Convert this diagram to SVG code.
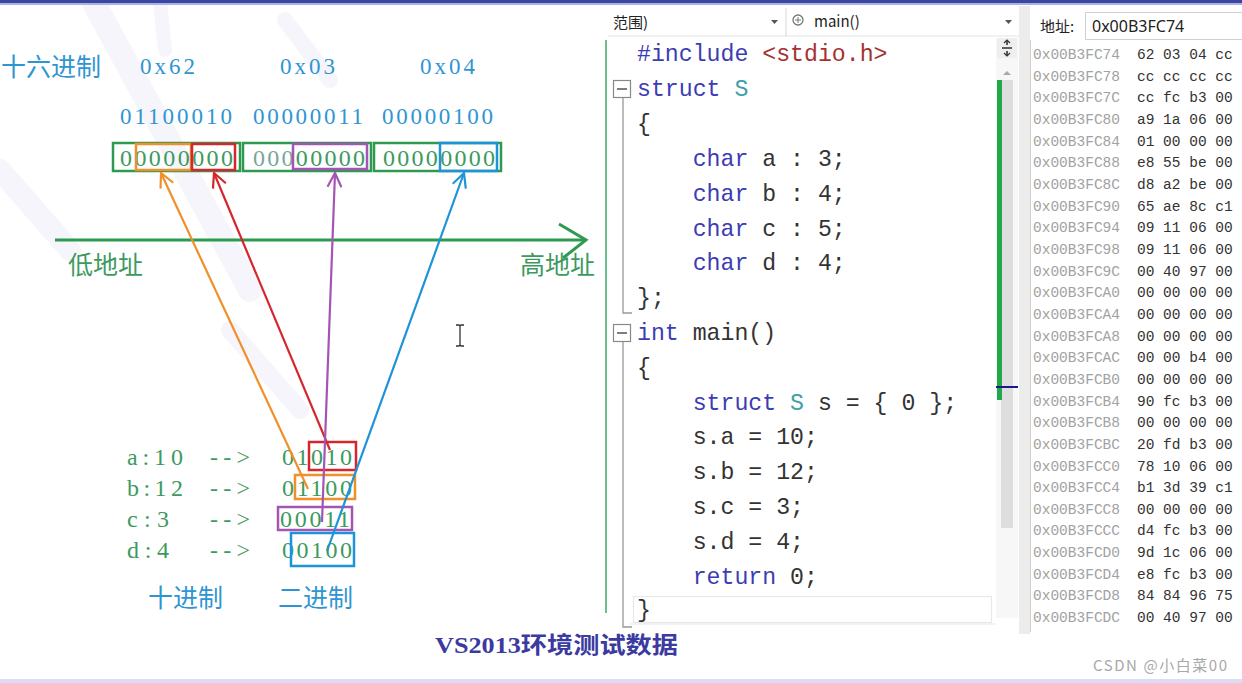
<svg xmlns="http://www.w3.org/2000/svg" width="1242" height="683" viewBox="0 0 1242 683">
<defs>
<style>
.blu{font-family:"Liberation Serif","Noto Sans CJK SC",serif;fill:#2f95d2;font-size:23px}
.cjkb{font-family:"Noto Sans CJK SC",sans-serif;fill:#2f95d2;font-size:25px}
.cjkg{font-family:"Noto Sans CJK SC",sans-serif;fill:#3d9a5e;font-size:25px}
.grn{font-family:"Liberation Serif",serif;fill:#3d9a5e;font-size:24px}
.code{font-family:"Liberation Mono",monospace;font-size:23.2px;fill:#333;white-space:pre}
.kw{fill:#3c3cb4}
.str{fill:#a33232}
.typ{fill:#3fa0a8}
.addr{font-family:"Liberation Mono",monospace;font-size:14.5px;fill:#a2a2a2}
.byte{font-family:"Liberation Mono",monospace;font-size:14.5px;fill:#333}
.ui{font-family:"Noto Sans CJK SC","Noto Sans",sans-serif;font-size:15px;fill:#222}
.box{fill:none;stroke-width:2.5}
.arr{fill:none;stroke-width:2.2}
</style>
<marker id="mO" viewBox="0 0 16 16" refX="15" refY="8" markerWidth="16" markerHeight="16" markerUnits="userSpaceOnUse" orient="auto"><path d="M1,1 L15,8 L1,15" fill="none" stroke="#f0902a" stroke-width="2.2"/></marker>
<marker id="mR" viewBox="0 0 16 16" refX="15" refY="8" markerWidth="16" markerHeight="16" markerUnits="userSpaceOnUse" orient="auto"><path d="M1,1 L15,8 L1,15" fill="none" stroke="#d5262c" stroke-width="2.2"/></marker>
<marker id="mP" viewBox="0 0 16 16" refX="15" refY="8" markerWidth="16" markerHeight="16" markerUnits="userSpaceOnUse" orient="auto"><path d="M1,1 L15,8 L1,15" fill="none" stroke="#a455b4" stroke-width="2.2"/></marker>
<marker id="mB" viewBox="0 0 16 16" refX="15" refY="8" markerWidth="16" markerHeight="16" markerUnits="userSpaceOnUse" orient="auto"><path d="M1,1 L15,8 L1,15" fill="none" stroke="#1e93d8" stroke-width="2.2"/></marker>
</defs>

<rect x="0" y="0" width="1242" height="683" fill="#ffffff"/>

<!-- faint watermark strokes -->
<g id="watermark" fill="none" stroke="#f6f5fb" stroke-linecap="round">
<path d="M95,5 L250,290" stroke-width="24"/>
<path d="M160,0 L165,50" stroke-width="14"/>
<path d="M285,20 L330,80" stroke-width="16"/>
<path d="M0,170 L70,250" stroke-width="22"/>
<path d="M230,330 L300,410" stroke-width="18"/>
</g>

<!-- window frame lines -->
<rect x="0" y="0" width="1242" height="3" fill="#3c45a0"/>
<rect x="0" y="3" width="1242" height="2" fill="#aab2e2"/>
<rect x="0" y="679" width="1242" height="4" fill="#dcdcf6"/>

<!-- LEFT DIAGRAM -->
<g id="hex-labels">
<text class="cjkb" x="1" y="76" font-size="23">十六进制</text>
<text class="blu" x="140" y="74" textLength="55">0x62</text>
<text class="blu" x="280" y="74" textLength="55">0x03</text>
<text class="blu" x="420" y="74" textLength="55">0x04</text>
</g>
<g id="bin-labels">
<text class="blu" x="120" y="124" textLength="112">01100010</text>
<text class="blu" x="253" y="124" textLength="110">00000011</text>
<text class="blu" x="382" y="124" textLength="111">00000100</text>
</g>

<g id="byte0">
<rect class="box" x="113" y="143" width="127" height="28" stroke="#2e9a50" fill="#fdfffd"/>
<text class="grn" x="120" y="166" textLength="113">00000000</text>
<rect class="box" x="136" y="144" width="55" height="26" stroke="#f0902a"/>
<rect class="box" x="192" y="144" width="43" height="26" stroke="#d5262c"/>
</g>
<g id="byte1">
<rect class="box" x="243" y="143" width="128" height="28" stroke="#2e9a50" fill="#fafdfd"/>
<text class="grn" x="253" y="166" textLength="112"><tspan fill="#7aa69a">000</tspan>00000</text>
<rect class="box" x="293" y="144" width="74" height="25" stroke="#a455b4"/>
</g>
<g id="byte2">
<rect class="box" x="374" y="143" width="127" height="28" stroke="#2e9a50" fill="#fdfffd"/>
<text class="grn" x="383" y="166" textLength="112">00000000</text>
<rect class="box" x="440" y="143" width="57" height="28" stroke="#1e93d8"/>
</g>

<g id="axis">
<line x1="55" y1="240" x2="585" y2="240" stroke="#2e9a50" stroke-width="3"/>
<polyline points="559,224 586,240 563,258" fill="none" stroke="#2e9a50" stroke-width="3"/>
<text class="cjkg" x="68" y="274">低地址</text>
<text class="cjkg" x="520" y="274">高地址</text>
</g>

<g id="values">
<text class="grn" x="127" y="465" textLength="56">a:10</text>
<text class="grn" x="127" y="496" textLength="56">b:12</text>
<text class="grn" x="127" y="527" textLength="42">c:3</text>
<text class="grn" x="127" y="558" textLength="42">d:4</text>
<text class="grn" x="210" y="465" textLength="40">--&gt;</text>
<text class="grn" x="210" y="496" textLength="40">--&gt;</text>
<text class="grn" x="210" y="527" textLength="40">--&gt;</text>
<text class="grn" x="210" y="558" textLength="40">--&gt;</text>
<text class="grn" x="282" y="465" textLength="70">01010</text>
<text class="grn" x="282" y="496" textLength="70">01100</text>
<text class="grn" x="280" y="527" textLength="70">00011</text>
<text class="grn" x="282" y="558" textLength="70">00100</text>
<rect class="box" x="309" y="442" width="47" height="28" stroke="#d5262c"/>
<rect class="box" x="295" y="475" width="60" height="24" stroke="#f0902a"/>
<rect class="box" x="278" y="507" width="74" height="23" stroke="#a455b4"/>
<rect class="box" x="291" y="533" width="63" height="33" stroke="#1e93d8"/>
<text class="cjkb" x="148" y="607" font-size="26">十进制</text>
<text class="cjkb" x="278" y="607" font-size="26">二进制</text>
</g>

<g id="connectors">
<line class="arr" x1="308" y1="489" x2="161" y2="173" stroke="#f0902a" marker-end="url(#mO)"/>
<line class="arr" x1="330" y1="450" x2="214" y2="173" stroke="#d5262c" marker-end="url(#mR)"/>
<line class="arr" x1="322" y1="522" x2="335" y2="173" stroke="#a455b4" marker-end="url(#mP)"/>
<line class="arr" x1="327" y1="551" x2="464" y2="173" stroke="#1e93d8" marker-end="url(#mB)"/>
</g>

<g id="cursor" stroke="#333" stroke-width="1.3" fill="none">
<path d="M460,326 V345 M456,325 H459 L460,326 L461,325 H464 M456,346 H459 L460,345 L461,346 H464"/>
</g>

<g id="caption">
<text x="435" y="653" font-family="Liberation Serif,Noto Sans CJK SC,serif" font-weight="bold" font-size="23" fill="#3a3aa0" textLength="243" lengthAdjust="spacingAndGlyphs">VS2013环境测试数据</text>
</g>

<!-- EDITOR -->
<g id="editor-toolbar">
<rect x="608" y="6" width="412" height="30" fill="#ffffff"/>
<line x1="608" y1="36" x2="1020" y2="36" stroke="#e2e2e2"/>
<text class="ui" x="613" y="28" font-size="14">范围)</text>
<path d="M771,20 h7 l-3.5,4 z" fill="#555"/>
<line x1="786" y1="8" x2="786" y2="36" stroke="#d6d6d6"/>
<circle cx="798" cy="20" r="5" fill="none" stroke="#777" stroke-width="1.3"/>
<path d="M795,20 h6 M798,17 v6" stroke="#777" stroke-width="1"/>
<text class="ui" x="814" y="27" font-size="15" font-family="Noto Sans,sans-serif">main()</text>
<path d="M1005,20 h7 l-3.5,4 z" fill="#555"/>
</g>

<g id="editor-gutter">
<line x1="606" y1="40" x2="606" y2="613" stroke="#6cc08c" stroke-width="2"/>
<rect x="613.5" y="80.5" width="17" height="17" fill="#fff" stroke="#888" stroke-width="1.2"/>
<line x1="617" y1="89" x2="627" y2="89" stroke="#555" stroke-width="1.5"/>
<path d="M623,98 V313 H632" fill="none" stroke="#999" stroke-width="1.3"/>
<rect x="613.5" y="324.5" width="17" height="17" fill="#fff" stroke="#888" stroke-width="1.2"/>
<line x1="617" y1="333" x2="627" y2="333" stroke="#555" stroke-width="1.5"/>
<path d="M623,342 V627 H632" fill="none" stroke="#999" stroke-width="1.3"/>
</g>

<g id="code">
<rect x="633.5" y="596.5" width="358" height="26" fill="none" stroke="#e8e8e8" stroke-width="1.2"/>
<text class="code" x="637" y="61"><tspan class="kw" fill="#4a4aa8">#include</tspan> <tspan class="str">&lt;stdio.h&gt;</tspan></text>
<text class="code" x="637" y="96"><tspan class="kw">struct</tspan> <tspan class="typ">S</tspan></text>
<text class="code" x="637" y="131">{</text>
<text class="code" x="637" y="166">    <tspan class="kw">char</tspan> a : 3;</text>
<text class="code" x="637" y="201">    <tspan class="kw">char</tspan> b : 4;</text>
<text class="code" x="637" y="236">    <tspan class="kw">char</tspan> c : 5;</text>
<text class="code" x="637" y="270">    <tspan class="kw">char</tspan> d : 4;</text>
<text class="code" x="637" y="305">};</text>
<text class="code" x="637" y="340"><tspan class="kw">int</tspan> main()</text>
<text class="code" x="637" y="375">{</text>
<text class="code" x="637" y="410">    <tspan class="kw">struct</tspan> <tspan class="typ">S</tspan> s = { 0 };</text>
<text class="code" x="637" y="444">    s.a = 10;</text>
<text class="code" x="637" y="479">    s.b = 12;</text>
<text class="code" x="637" y="514">    s.c = 3;</text>
<text class="code" x="637" y="549">    s.d = 4;</text>
<text class="code" x="637" y="584">    <tspan class="kw">return</tspan> 0;</text>
<text class="code" x="637" y="617">}</text>
<line x1="630" y1="624" x2="995" y2="624" stroke="#e6e6e6" stroke-width="1.2"/>
</g>

<g id="scrollbar">
<rect x="996" y="38" width="22" height="580" fill="#f7f7f7"/>
<rect x="997" y="38" width="20" height="20" fill="#eeeeee"/>
<path d="M1002,48 h10 M1007,41 v4 M1007,51 v4" stroke="#333" stroke-width="1.6"/>
<path d="M1004,43 l3,-3 l3,3 M1004,53 l3,3 l3,-3" fill="none" stroke="#333" stroke-width="1.2"/>
<path d="M1003,75 l4,-4 l4,4 z" fill="#aaa"/>
<rect x="1001" y="80" width="12" height="448" fill="#dedede"/>
<rect x="997" y="80" width="5" height="320" fill="#22a84a"/>
<line x1="996" y1="387" x2="1018" y2="387" stroke="#1a1a8a" stroke-width="2"/>
</g>

<!-- MEMORY PANEL -->
<g id="memory-panel">
<rect x="1019" y="6" width="11" height="628" fill="#ececec"/>
<line x1="1030.5" y1="40" x2="1030.5" y2="632" stroke="#cfcfcf"/>
<text class="ui" x="1040" y="32" font-size="15">地址:</text>
<rect x="1085.5" y="12.5" width="160" height="27" fill="#fff" stroke="#d0d0d0"/>
<text x="1092" y="32" font-family="Noto Sans,sans-serif" font-size="16" fill="#222">0x00B3FC74</text>
<g id="mem-rows">
<text class="addr" x="1033" y="59">0x00B3FC74</text><text class="byte" x="1137" y="59">62 03 04 cc</text>
<text class="addr" x="1033" y="81">0x00B3FC78</text><text class="byte" x="1137" y="81">cc cc cc cc</text>
<text class="addr" x="1033" y="102">0x00B3FC7C</text><text class="byte" x="1137" y="102">cc fc b3 00</text>
<text class="addr" x="1033" y="124">0x00B3FC80</text><text class="byte" x="1137" y="124">a9 1a 06 00</text>
<text class="addr" x="1033" y="146">0x00B3FC84</text><text class="byte" x="1137" y="146">01 00 00 00</text>
<text class="addr" x="1033" y="167">0x00B3FC88</text><text class="byte" x="1137" y="167">e8 55 be 00</text>
<text class="addr" x="1033" y="189">0x00B3FC8C</text><text class="byte" x="1137" y="189">d8 a2 be 00</text>
<text class="addr" x="1033" y="211">0x00B3FC90</text><text class="byte" x="1137" y="211">65 ae 8c c1</text>
<text class="addr" x="1033" y="232">0x00B3FC94</text><text class="byte" x="1137" y="232">09 11 06 00</text>
<text class="addr" x="1033" y="254">0x00B3FC98</text><text class="byte" x="1137" y="254">09 11 06 00</text>
<text class="addr" x="1033" y="276">0x00B3FC9C</text><text class="byte" x="1137" y="276">00 40 97 00</text>
<text class="addr" x="1033" y="297">0x00B3FCA0</text><text class="byte" x="1137" y="297">00 00 00 00</text>
<text class="addr" x="1033" y="319">0x00B3FCA4</text><text class="byte" x="1137" y="319">00 00 00 00</text>
<text class="addr" x="1033" y="341">0x00B3FCA8</text><text class="byte" x="1137" y="341">00 00 00 00</text>
<text class="addr" x="1033" y="362">0x00B3FCAC</text><text class="byte" x="1137" y="362">00 00 b4 00</text>
<text class="addr" x="1033" y="384">0x00B3FCB0</text><text class="byte" x="1137" y="384">00 00 00 00</text>
<text class="addr" x="1033" y="406">0x00B3FCB4</text><text class="byte" x="1137" y="406">90 fc b3 00</text>
<text class="addr" x="1033" y="427">0x00B3FCB8</text><text class="byte" x="1137" y="427">00 00 00 00</text>
<text class="addr" x="1033" y="449">0x00B3FCBC</text><text class="byte" x="1137" y="449">20 fd b3 00</text>
<text class="addr" x="1033" y="471">0x00B3FCC0</text><text class="byte" x="1137" y="471">78 10 06 00</text>
<text class="addr" x="1033" y="492">0x00B3FCC4</text><text class="byte" x="1137" y="492">b1 3d 39 c1</text>
<text class="addr" x="1033" y="514">0x00B3FCC8</text><text class="byte" x="1137" y="514">00 00 00 00</text>
<text class="addr" x="1033" y="535">0x00B3FCCC</text><text class="byte" x="1137" y="535">d4 fc b3 00</text>
<text class="addr" x="1033" y="557">0x00B3FCD0</text><text class="byte" x="1137" y="557">9d 1c 06 00</text>
<text class="addr" x="1033" y="579">0x00B3FCD4</text><text class="byte" x="1137" y="579">e8 fc b3 00</text>
<text class="addr" x="1033" y="600">0x00B3FCD8</text><text class="byte" x="1137" y="600">84 84 96 75</text>
<text class="addr" x="1033" y="622">0x00B3FCDC</text><text class="byte" x="1137" y="622">00 40 97 00</text>
</g>
</g>

<g id="watermark-text">
<text x="1093" y="671" font-family="Noto Sans CJK SC,sans-serif" font-size="15" fill="#a8a8a8" textLength="134">CSDN @小白菜00</text>
</g>
</svg>
